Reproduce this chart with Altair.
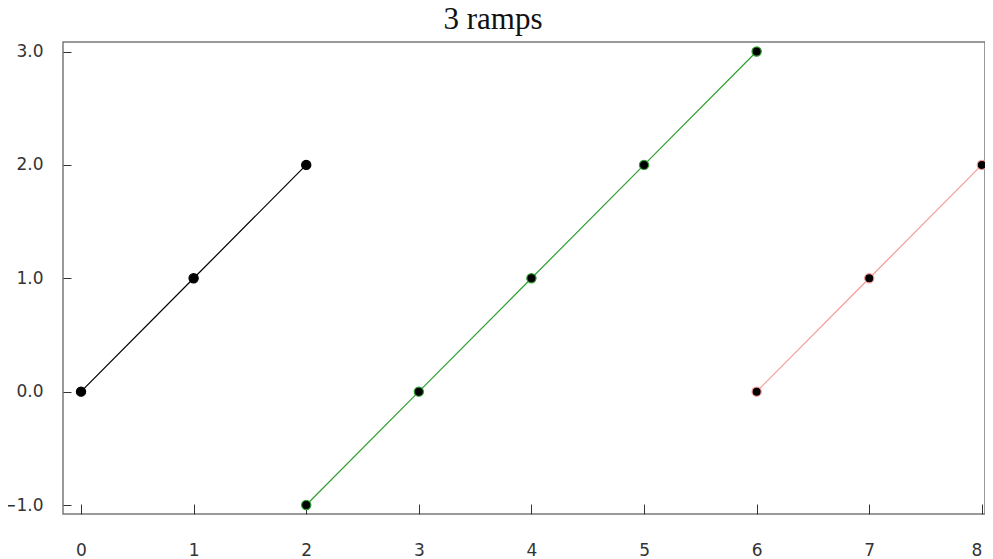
import altair as alt
import pandas as pd

series_names = ["ramp1", "ramp2", "ramp3"]
ramp1_x = [0, 1, 2]
ramp1_y = [0, 1, 2]
ramp2_x = [2, 3, 4, 5, 6]
ramp2_y = [-1, 0, 1, 2, 3]
ramp3_x = [6, 7, 8]
ramp3_y = [0, 1, 2]
series_colors = ["#000000", "#2f9e2f", "#f59a9a"]
x_ticks = [0, 1, 2, 3, 4, 5, 6, 7, 8]
y_ticks = [-1, 0, 1, 2, 3]

rows = []
for name, xs, ys in zip(series_names, [ramp1_x, ramp2_x, ramp3_x], [ramp1_y, ramp2_y, ramp3_y]):
    for x, y in zip(xs, ys):
        rows.append({"series": name, "x": x, "y": y})
df = pd.DataFrame(rows)

color = alt.Color("series:N", scale=alt.Scale(domain=series_names, range=series_colors), legend=None)
xenc = alt.X("x:Q", scale=alt.Scale(domain=[-0.16, 8.028], nice=False, zero=False),
             axis=alt.Axis(values=x_ticks, format="d", title=None, grid=False, domain=False,
                           orient="bottom", offset=-10, tickSize=10, tickColor="#333333",
                           labelPadding=28, labelFontSize=17, labelFont="DejaVu Sans",
                           labelColor="#333333", labelFlush=5))
yenc = alt.Y("y:Q", scale=alt.Scale(domain=[-1.079, 3.084], nice=False, zero=False),
             axis=alt.Axis(values=y_ticks, format=".1f", title=None, grid=False, domain=False,
                           orient="left", offset=-8, tickSize=8, tickColor="#333333",
                           labelPadding=20, labelFontSize=17, labelFont="DejaVu Sans",
                           labelColor="#333333"))

base = alt.Chart(df)
lines = base.mark_line(strokeWidth=1.2).encode(x=xenc, y=yenc, color=color, detail="series:N")
points = base.mark_point(filled=True, size=85, fill="black", strokeWidth=1.2, opacity=1).encode(
    x="x:Q", y="y:Q", stroke=alt.Stroke("series:N", scale=alt.Scale(domain=series_names, range=series_colors), legend=None))

chart = alt.layer(lines, points).properties(
    width=922, height=472,
    title=alt.TitleParams("3 ramps", font="Liberation Serif", fontSize=31, fontWeight="normal",
                          color="#111111", anchor="middle", dx=-31, offset=6),
    autosize=alt.AutoSizeParams(type="none"),
    padding={"left": 55, "top": 34, "right": 0, "bottom": 45},
).configure_view(stroke="#7a7a7a", strokeWidth=1.5)

chart.save("out.html", embed_options={"renderer": "svg", "actions": False})
